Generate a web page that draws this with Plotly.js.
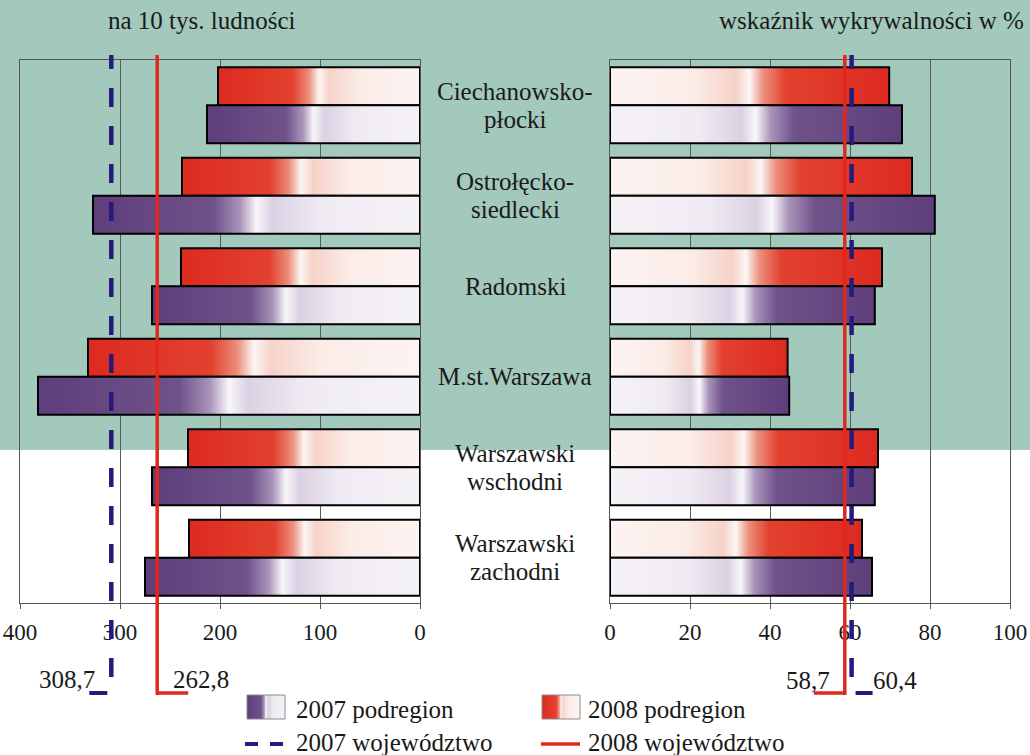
<!DOCTYPE html>
<html><head><meta charset="utf-8">
<script src="https://cdn.plot.ly/plotly-3.0.1.min.js"></script>
<style>html,body{margin:0;padding:0;background:#fff;} #chart{width:1030px;height:755px;}</style>
</head><body><div id="chart"></div>
<script>
// ---------- data ----------
const regions = ['Ciechanowsko-<br>płocki', 'Ostrołęcko-<br>siedlecki', 'Radomski', 'M.st.Warszawa', 'Warszawski<br>wschodni', 'Warszawski<br>zachodni'];
const rate2008 = [202, 238, 239, 332, 232, 231];   // przestępstwa na 10 tys. ludności
const rate2007 = [213, 327, 268, 382, 268, 275];
const det2008 = [69.8, 75.5, 68.0, 44.4, 67.0, 63.0]; // wskaźnik wykrywalności w %
const det2007 = [73.0, 81.2, 66.2, 44.8, 66.2, 65.5];
const woj2007 = [308.7, 60.4];   // województwo: [na 10 tys., wykrywalność]
const woj2008 = [262.8, 58.7];
const leftTicks = [400, 300, 200, 100, 0];
const rightTicks = [0, 20, 40, 60, 80, 100];
const titleLeft = 'na 10 tys. ludności';
const titleRight = 'wskaźnik wykrywalności w %';
const legendLabels = ['2007 podregion', '2008 podregion', '2007 województwo', '2008 województwo'];

// ---------- style ----------
const W = 1030, H = 755;
const TEAL = 'rgb(163,200,188)';
const RED = '#df281e', PURPLE = '#5e3e7b', NAVY = '#261a7a';
const FONT = '"Liberation Serif", "Times New Roman", Times, serif';
const FS = 25;
const TXT = '#1a1a1a';
const GRID = '#5a5a5a';
const redScale = [[0,'#fcf4f2'],[0.3,'#fbece7'],[0.45,'#f6d2c8'],[0.5,'#fbf6f4'],[0.55,'#ec8e7b'],[0.63,'#e2412f'],[1,'#dd2a20']];
const purpleScale = [[0,'#f5f2f7'],[0.3,'#f0ebf3'],[0.45,'#dbd1e3'],[0.5,'#f8f6fa'],[0.55,'#a994ba'],[0.63,'#70528a'],[1,'#5e3e7b']];
const BAR_H = 0.42;
const px = v => v / W, py = v => 1 - v / H;

function barTrace(val, i, top, xa, ya, scale) {
  const y0 = top ? i - BAR_H : i, y1 = top ? i : i + BAR_H;
  return {
    type: 'scatter', mode: 'lines', x: [0, val, val, 0, 0], y: [y0, y0, y1, y1, y0],
    xaxis: xa, yaxis: ya, fill: 'toself',
    fillgradient: {type: 'horizontal', colorscale: scale, start: 0, stop: val},
    line: {color: '#000', width: 2}, hoverinfo: 'skip', showlegend: false
  };
}

const traces = [];
regions.forEach((r, i) => {
  traces.push(barTrace(rate2008[i], i, true, 'x', 'y', redScale));
  traces.push(barTrace(rate2007[i], i, false, 'x', 'y', purpleScale));
  traces.push(barTrace(det2008[i], i, true, 'x2', 'y2', redScale));
  traces.push(barTrace(det2007[i], i, false, 'x2', 'y2', purpleScale));
});

// legend swatches (pixel-space helper axes)
function swatch(x0, x1, y0, y1, scale) {
  return {type: 'scatter', mode: 'lines', x: [x0, x1, x1, x0, x0], y: [y0, y0, y1, y1, y0],
    xaxis: 'x3', yaxis: 'y3', fill: 'toself',
    fillgradient: {type: 'horizontal', colorscale: scale, start: x1, stop: x0},
    line: {color: '#8a8a8a', width: 1}, hoverinfo: 'skip', showlegend: false};
}
traces.push(swatch(247, 285, 695, 719, purpleScale));
traces.push(swatch(542, 580, 695, 719, redScale));

const LPX = 1, RPX = 0.25; // data units per pixel on left / right axes
const shapes = [
  {type: 'rect', xref: 'paper', yref: 'paper', x0: 0, x1: 1, y0: py(450), y1: 1, fillcolor: TEAL, line: {width: 0}, layer: 'below'},
  // 2007 województwo (dashed navy)
  {type: 'line', xref: 'x', yref: 'paper', x0: woj2007[0], x1: woj2007[0], y0: py(677), y1: py(55), line: {color: NAVY, width: 4.5, dash: '19px,19px'}},
  {type: 'line', xref: 'x', yref: 'paper', x0: woj2007[0] + 4 * LPX, x1: woj2007[0] + 22 * LPX, y0: py(693), y1: py(693), line: {color: NAVY, width: 4}},
  {type: 'line', xref: 'x2', yref: 'paper', x0: woj2007[1], x1: woj2007[1], y0: py(677), y1: py(55), line: {color: NAVY, width: 4.5, dash: '19px,19px'}},
  {type: 'line', xref: 'x2', yref: 'paper', x0: woj2007[1] + 4 * RPX, x1: woj2007[1] + 21 * RPX, y0: py(693), y1: py(693), line: {color: NAVY, width: 4}},
  // 2008 województwo (solid red)
  {type: 'line', xref: 'x', yref: 'paper', x0: woj2008[0], x1: woj2008[0], y0: py(695), y1: py(55), line: {color: RED, width: 3.5}},
  {type: 'line', xref: 'x', yref: 'paper', x0: woj2008[0], x1: woj2008[0] - 31 * LPX, y0: py(693), y1: py(693), line: {color: RED, width: 3.5}},
  {type: 'line', xref: 'x2', yref: 'paper', x0: woj2008[1], x1: woj2008[1], y0: py(695), y1: py(55), line: {color: RED, width: 3.5}},
  {type: 'line', xref: 'x2', yref: 'paper', x0: woj2008[1], x1: woj2008[1] - 31 * RPX, y0: py(693), y1: py(693), line: {color: RED, width: 3.5}},
  // legend line samples
  {type: 'line', xref: 'paper', yref: 'paper', x0: px(245), x1: px(283), y0: py(744), y1: py(744), line: {color: NAVY, width: 4, dash: '13px,12px'}},
  {type: 'line', xref: 'paper', yref: 'paper', x0: px(541), x1: px(580), y0: py(744), y1: py(744), line: {color: RED, width: 3.5}}
];

const fnt = {family: FONT, size: FS, color: TXT};
const fmt = v => String(v).replace('.', ',');
const annotations = [
  {xref: 'paper', yref: 'paper', x: px(202), y: py(20), text: titleLeft, showarrow: false, font: fnt, xanchor: 'center', yanchor: 'middle'},
  {xref: 'paper', yref: 'paper', x: px(871), y: py(20), text: titleRight, showarrow: false, font: fnt, xanchor: 'center', yanchor: 'middle'},
  {xref: 'x', yref: 'paper', x: woj2007[0], xshift: -14, y: py(679), text: fmt(woj2007[0]), showarrow: false, font: fnt, xanchor: 'right', yanchor: 'middle'},
  {xref: 'x', yref: 'paper', x: woj2008[0], xshift: 14, y: py(679), text: fmt(woj2008[0]), showarrow: false, font: fnt, xanchor: 'left', yanchor: 'middle'},
  {xref: 'x2', yref: 'paper', x: woj2008[1], xshift: -13, y: py(680), text: fmt(woj2008[1]), showarrow: false, font: fnt, xanchor: 'right', yanchor: 'middle'},
  {xref: 'x2', yref: 'paper', x: woj2007[1], xshift: 19, y: py(680), text: fmt(woj2007[1]), showarrow: false, font: fnt, xanchor: 'left', yanchor: 'middle'},
  {xref: 'paper', yref: 'paper', x: px(294), y: py(709), text: legendLabels[0], showarrow: false, font: fnt, xanchor: 'left', yanchor: 'middle'},
  {xref: 'paper', yref: 'paper', x: px(586), y: py(709), text: legendLabels[1], showarrow: false, font: fnt, xanchor: 'left', yanchor: 'middle'},
  {xref: 'paper', yref: 'paper', x: px(294), y: py(742), text: legendLabels[2], showarrow: false, font: fnt, xanchor: 'left', yanchor: 'middle'},
  {xref: 'paper', yref: 'paper', x: px(586), y: py(742), text: legendLabels[3], showarrow: false, font: fnt, xanchor: 'left', yanchor: 'middle'}
];
// category labels: one annotation per line for tighter line spacing
const LINE_GAP = 28;
regions.forEach((r, i) => {
  const lines = r.split('<br>');
  lines.forEach((t, k) => {
    const off = (k - (lines.length - 1) / 2) * LINE_GAP;
    annotations.push({xref: 'paper', yref: 'y', x: px(515), y: i, yshift: -off, text: t, showarrow: false, font: fnt, xanchor: 'center', yanchor: 'middle'});
  });
});

const xBase = {showline: true, mirror: true, linecolor: '#555', linewidth: 1, ticks: 'outside', ticklen: 5, tickcolor: '#555',
  showgrid: true, gridcolor: GRID, gridwidth: 1, zeroline: false, tickfont: Object.assign({}, fnt, {size: 23}), ticklabelstandoff: 3, fixedrange: true};
const yBase = {showline: true, mirror: true, linecolor: '#555', linewidth: 1, showgrid: false, zeroline: false,
  showticklabels: false, ticks: '', range: [5.5, -0.5], fixedrange: true, domain: [py(603), py(60)]};

const layout = {
  width: W, height: H, margin: {l: 0, r: 0, t: 0, b: 0},
  paper_bgcolor: '#ffffff', plot_bgcolor: 'rgba(0,0,0,0)', showlegend: false,
  font: fnt,
  xaxis: Object.assign({}, xBase, {domain: [px(20), px(420)], range: [400, 0], tickvals: leftTicks, ticktext: leftTicks.map(String), anchor: 'y'}),
  xaxis2: Object.assign({}, xBase, {domain: [px(610), px(1010)], range: [0, 100], tickvals: rightTicks, ticktext: rightTicks.map(String), anchor: 'y2'}),
  yaxis: Object.assign({}, yBase, {anchor: 'x'}),
  yaxis2: Object.assign({}, yBase, {anchor: 'x2', matches: 'y'}),
  xaxis3: {domain: [0, 1], range: [0, W], visible: false, fixedrange: true, anchor: 'y3'},
  yaxis3: {domain: [0, 1], range: [H, 0], visible: false, fixedrange: true, anchor: 'x3'},
  shapes: shapes, annotations: annotations
};

Plotly.newPlot('chart', traces, layout, {staticPlot: true, displayModeBar: false});
</script>
</body></html>
